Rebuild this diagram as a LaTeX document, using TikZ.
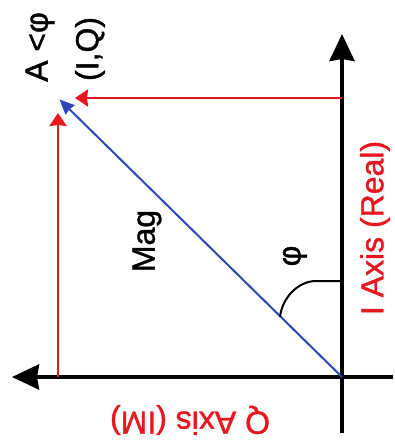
\documentclass[tikz,border=0pt]{standalone}
\usepackage{fontspec}
\setmainfont{Liberation Sans}
\newfontfamily\lblfont[FakeBold=1.2]{Liberation Sans}
\usetikzlibrary{arrows.meta}
\definecolor{pred}{RGB}{232,22,30}
\definecolor{pblue}{RGB}{45,70,185}
\tikzset{
  axis/.style={line width=4pt, -{Stealth[length=27pt,width=25pt,inset=2pt]}},
  proj/.style={pred, line width=2.6pt, -{Stealth[length=13pt,width=17pt,inset=1pt]}},
  vec/.style={pblue, line width=2pt, -{Stealth[length=15pt,width=13pt,inset=1pt]}},
  lbl/.style={inner sep=0pt, font=\lblfont\fontsize{32}{36}\selectfont},
}
\begin{document}
\begin{tikzpicture}[x=1pt,y=1pt]
\useasboundingbox (0,0) rectangle (395,-441);
\fill[white] (0,0) rectangle (395,-441);
\coordinate (O) at (342,-377);
\coordinate (Itop) at (342,-34);
\coordinate (Ibot) at (342,-433);
\coordinate (Qleft) at (12,-377);
\coordinate (Qright) at (393,-377);
\coordinate (P) at (58,-98);
\coordinate (Ipt) at (342,-98);
\coordinate (Qpt) at (58,-377);
\coordinate (a0) at (342,-281);
\coordinate (a1) at (316,-281);
\coordinate (a2) at (280,-317);
% axes
\draw[axis] (Ibot) -- (Itop);
\draw[axis] (Qright) -- (Qleft);
% projections
\draw[proj, shorten >=17pt] (Ipt) -- (P);
\draw[proj, shorten >=15pt] (Qpt) -- (P);
% vector
\draw[vec, shorten >=2pt] (O) -- (P);
% angle mark
\draw[line width=2pt] (a0) -- (a1) .. controls (298,-281) and (282,-298) .. (a2);
% labels
\node[lbl, rotate=90] (lA) at (40,-47) {A <φ};
\node[lbl, rotate=90] (lIQ) at (90,-49) {(I,Q)};
\node[lbl, rotate=90] (lMag) at (147,-241) {Mag};
\node[lbl, rotate=90] (lphi) at (295,-256) {φ};
\node[lbl, rotate=90, text=pred] (lI) at (375,-228) {I Axis (Real)};
\node[lbl, rotate=180, text=pred] (lQ) at (190,-420) {Q Axis (IM)};
\end{tikzpicture}
\end{document}
